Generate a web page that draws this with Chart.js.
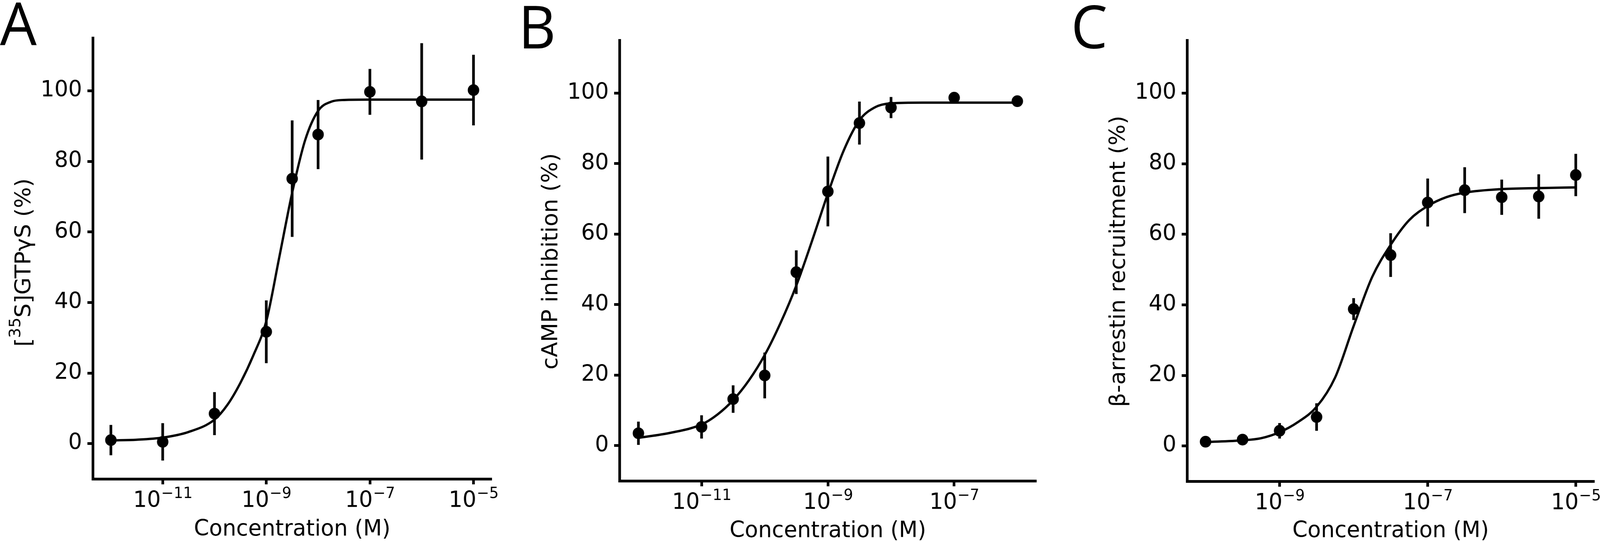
<!DOCTYPE html>
<html>
<head>
<meta charset="utf-8">
<title>Concentration-response curves</title>
<script src="https://cdn.jsdelivr.net/npm/chart.js@4.4.1/dist/chart.umd.min.js"></script>
<style>
  html, body { margin: 0; padding: 0; background: #fff; overflow: hidden; }
  #page { position: relative; width: 4192px; height: 1385px; background: #fff; transform-origin: 0 0; }
  .panel { position: absolute; top: 0; height: 1385px; }
  .letter { position: absolute; font-family: 'Open Sans', 'Noto Sans', sans-serif; font-size: 152px; line-height: 152px; color: #000; }
</style>
</head>
<body>
<div id="page">
  <div class="panel" style="left:0;width:1380px"><canvas id="chartA" width="1380" height="1385"></canvas></div>
  <div class="panel" style="left:1380px;width:1440px"><canvas id="chartB" width="1440" height="1385"></canvas></div>
  <div class="panel" style="left:2867px;width:1325px"><canvas id="chartC" width="1325" height="1385"></canvas></div>
  <div class="letter" style="left:0px;top:-18px">A</div>
  <div class="letter" style="left:1358px;top:-10px">B</div>
  <div class="letter" style="left:2806px;top:-10px">C</div>
</div>
<script>
// ----------------------
// Data
// ----------------------
const yTicks = [0, 20, 40, 60, 80, 100];

// Panel A: [35S]GTPyS binding
const concA = [1e-12, 1e-11, 1e-10, 1e-9, 3.16e-9, 1e-8, 1e-7, 1e-6, 1e-5];
const respA = [1.0, 0.5, 8.5, 31.7, 75.1, 87.6, 99.7, 97.0, 100.2];
const errA = [4.3, 5.3, 6.1, 8.9, 16.5, 9.8, 6.5, 16.5, 10.0];
const curveXA = [1e-12, 3.16e-12, 1e-11, 3.16e-11, 1e-10, 1.78e-10, 3.16e-10, 5.62e-10, 1e-9,
  1.78e-9, 3.16e-9, 5.62e-9, 1e-8, 1.78e-8, 3.16e-8, 1e-7, 1e-6, 1e-5];
const curveYA = [0.9, 1.1, 1.7, 3.3, 6.8, 11.0, 17.2, 25.0, 34.7,
  52.8, 71.1, 86.0, 94.3, 96.9, 97.4, 97.5, 97.5, 97.5];
const xTicksA = [1e-11, 1e-9, 1e-7, 1e-5];
const xExpA = ['−11', '−9', '−7', '−5'];
const yLabelA = [['[', false], ['35', true], ['S]GTPγS (%)', false]];

// Panel B: cAMP inhibition
const concB = [1e-12, 1e-11, 3.16e-11, 1e-10, 3.16e-10, 1e-9, 3.16e-9, 1e-8, 1e-7, 1e-6];
const respB = [3.5, 5.3, 13.2, 19.9, 49.2, 72.1, 91.5, 95.9, 98.7, 97.7];
const errB = [3.3, 3.3, 3.9, 6.5, 6.2, 9.9, 6.1, 3.0, 0, 0];
const curveXB = [1e-12, 3.16e-12, 1e-11, 1.78e-11, 3.16e-11, 5.62e-11, 1e-10, 1.78e-10, 3.16e-10,
  5.62e-10, 1e-9, 1.78e-9, 3.16e-9, 5.62e-9, 1e-8, 3.16e-8, 1e-7, 1e-6];
const curveYB = [2.2, 3.6, 6.0, 8.8, 12.9, 18.5, 25.7, 34.8, 45.4,
  58.1, 71.5, 83.7, 92.3, 96.0, 97.1, 97.3, 97.3, 97.3];
const xTicksB = [1e-11, 1e-9, 1e-7];
const xExpB = ['−11', '−9', '−7'];
const yLabelB = [['cAMP inhibition (%)', false]];

// Panel C: beta-arrestin recruitment
const concC = [1e-10, 3.16e-10, 1e-9, 3.16e-9, 1e-8, 3.16e-8, 1e-7, 3.16e-7, 1e-6, 3.16e-6, 1e-5];
const respC = [1.2, 1.8, 4.3, 8.2, 38.8, 54.1, 69.0, 72.5, 70.5, 70.7, 76.8];
const errC = [0.5, 0.6, 2.2, 3.9, 3.1, 6.2, 6.8, 6.5, 5.0, 6.3, 6.0];
const curveXC = [1e-10, 3.16e-10, 5.62e-10, 1e-9, 1.78e-9, 3.16e-9, 5.62e-9, 1e-8, 1.78e-8,
  3.16e-8, 5.62e-8, 1e-7, 1.78e-7, 3.16e-7, 1e-6, 3.16e-6, 1e-5];
const curveYC = [1.1, 1.6, 2.2, 3.9, 6.8, 11.1, 19.4, 34.0, 47.9,
  57.0, 64.0, 68.0, 70.5, 71.8, 72.8, 73.1, 73.3];
const xTicksC = [1e-9, 1e-7, 1e-5];
const xExpC = ['−9', '−7', '−5'];
const yLabelC = [['β-arrestin recruitment (%)', false]];

// ----------------------
// The browser viewport may be narrower than the 4192px figure: stretch to fit it
// ----------------------
const sx = window.innerWidth / 4192;
const sy = window.innerHeight / 1385;
document.getElementById('page').style.transform = `scale(${sx}, ${sy})`;

// ----------------------
// Defaults
// ----------------------
const FAMILY = "'DejaVu Sans', sans-serif";
Chart.defaults.font.family = FAMILY;
Chart.defaults.font.size = 57;
Chart.defaults.color = '#000';

const FONT = { size: 57, family: FAMILY, lineHeight: 1.2 };
const CANVAS_H = 1385;

// vertical error bars drawn through the chart scales
const errorBars = {
  id: 'errorBars',
  beforeDatasetsDraw(chart) {
    const { ctx, scales: { x, y } } = chart;
    ctx.save();
    ctx.strokeStyle = '#000';
    ctx.lineWidth = 7;
    ctx.lineCap = 'butt';
    chart.data.datasets.forEach((ds) => {
      if (!ds.errors) return;
      ds.data.forEach((p, j) => {
        const e = ds.errors[j];
        if (!e) return;
        const px = x.getPixelForValue(p.x);
        ctx.beginPath();
        ctx.moveTo(px, y.getPixelForValue(p.y - e));
        ctx.lineTo(px, y.getPixelForValue(p.y + e));
        ctx.stroke();
      });
    });
    ctx.restore();
  },
};

// "10" with a raised exponent, like matplotlib's log tick labels
const powerTicks = {
  id: 'powerTicks',
  afterDraw(chart) {
    const opts = chart.options.plugins.powerTicks;
    if (!opts) return;
    const { ctx, chartArea, scales: { x } } = chart;
    const baseY = chartArea.bottom + 72;
    ctx.save();
    ctx.fillStyle = '#000';
    ctx.textBaseline = 'alphabetic';
    ctx.textAlign = 'left';
    opts.values.forEach((v, i) => {
      const px = x.getPixelForValue(v);
      ctx.font = `57px ${FAMILY}`;
      const wBase = ctx.measureText('10').width;
      ctx.font = `39px ${FAMILY}`;
      const wExp = ctx.measureText(opts.exps[i]).width;
      const left = px - (wBase + wExp) / 2;
      ctx.font = `57px ${FAMILY}`;
      ctx.fillText('10', left, baseY);
      ctx.font = `39px ${FAMILY}`;
      ctx.fillText(opts.exps[i], left + wBase + 1, baseY - 23);
    });
    ctx.restore();
  },
};

// rotated y-axis title that can hold a superscript part
const yTitle = {
  id: 'yTitle',
  afterDraw(chart) {
    const opts = chart.options.plugins.yTitle;
    if (!opts) return;
    const { ctx } = chart;
    const fontFor = (sup) => `${sup ? 41 : 57}px ${FAMILY}`;
    const widths = opts.parts.map(([text, sup]) => {
      ctx.font = fontFor(sup);
      return ctx.measureText(text).width;
    });
    const total = widths.reduce((a, b) => a + b, 0);
    ctx.save();
    ctx.translate(opts.x, opts.centerY);
    ctx.rotate(-Math.PI / 2);
    ctx.fillStyle = '#000';
    ctx.textBaseline = 'alphabetic';
    ctx.textAlign = 'left';
    let cx = -total / 2;
    opts.parts.forEach(([text, sup], i) => {
      ctx.font = fontFor(sup);
      ctx.fillText(text, cx, sup ? -27 : 0);
      cx += widths[i];
    });
    ctx.restore();
  },
};

function axisStyle() {
  return {
    grid: { display: true, drawOnChartArea: false, drawTicks: true, tickLength: 14, tickWidth: 7, tickColor: '#000' },
    border: { display: true, width: 7, color: '#000' },
  };
}

function makePanel(id, p) {
  const curve = p.curveX.map((x, i) => ({ x, y: p.curveY[i] }));
  const points = p.conc.map((x, i) => ({ x, y: p.resp[i] }));
  return new Chart(document.getElementById(id), {
    type: 'scatter',
    data: {
      datasets: [
        {
          data: curve,
          showLine: true,
          borderColor: '#000',
          borderWidth: 6,
          pointRadius: 0,
          cubicInterpolationMode: 'monotone',
          fill: false,
        },
        {
          data: points,
          errors: p.err,
          pointRadius: 15,
          backgroundColor: '#000',
          borderColor: '#000',
          borderWidth: 0,
        },
      ],
    },
    options: {
      responsive: false,
      animation: false,
      devicePixelRatio: 1,
      events: [],
      layout: { padding: { top: p.top, right: p.right, left: 0, bottom: 0 } },
      plugins: {
        legend: { display: false },
        tooltip: { enabled: false },
        powerTicks: { values: p.xTicks, exps: p.xExps },
        yTitle: { parts: p.yLabel, x: 80, centerY: p.labelY },
      },
      scales: {
        x: {
          type: 'logarithmic',
          min: p.xMin,
          max: p.xMax,
          afterBuildTicks: (s) => { s.ticks = p.xTicks.map((v) => ({ value: v })); },
          afterFit: (s) => {
            s.height = CANVAS_H - p.bottom;
            s.paddingLeft = 0; s.paddingRight = 0;
          },
          ticks: { callback: () => '', font: FONT, maxRotation: 0, autoSkip: false },
          ...axisStyle(),
          title: {
            display: true, text: 'Concentration (M)', font: FONT, color: '#000',
            padding: { top: 0, bottom: p.xTitleShift },
          },
        },
        y: {
          min: -10,
          max: 115,
          afterBuildTicks: (s) => { s.ticks = yTicks.map((v) => ({ value: v })); },
          afterFit: (s) => {
            s.width = 243;
            s.paddingTop = 0; s.paddingBottom = 0;
          },
          ticks: { font: FONT, color: '#000', padding: 14 },
          ...axisStyle(),
          title: { display: false },
        },
      },
    },
    plugins: [errorBars, powerTicks, yTitle],
  });
}

makePanel('chartA', {
  conc: concA, resp: respA, err: errA, curveX: curveXA, curveY: curveYA,
  xTicks: xTicksA, xExps: xExpA, xMin: 10 ** -12.35, xMax: 10 ** -4.65,
  yLabel: yLabelA, labelY: 672, top: 97, bottom: 1226, right: 92, xTitleShift: -5,
});

makePanel('chartB', {
  conc: concB, resp: respB, err: errB, curveX: curveXB, curveY: curveYB,
  xTicks: xTicksB, xExps: xExpB, xMin: 10 ** -12.3, xMax: 10 ** -5.7,
  yLabel: yLabelB, labelY: 669, top: 103, bottom: 1231, right: 105, xTitleShift: -9,
});

makePanel('chartC', {
  conc: concC, resp: respC, err: errC, curveX: curveXC, curveY: curveYC,
  xTicks: xTicksC, xExps: xExpC, xMin: 10 ** -10.25, xMax: 10 ** -4.75,
  yLabel: yLabelC, labelY: 669, top: 103, bottom: 1232, right: 9, xTitleShift: -9,
});
</script>
</body>
</html>
